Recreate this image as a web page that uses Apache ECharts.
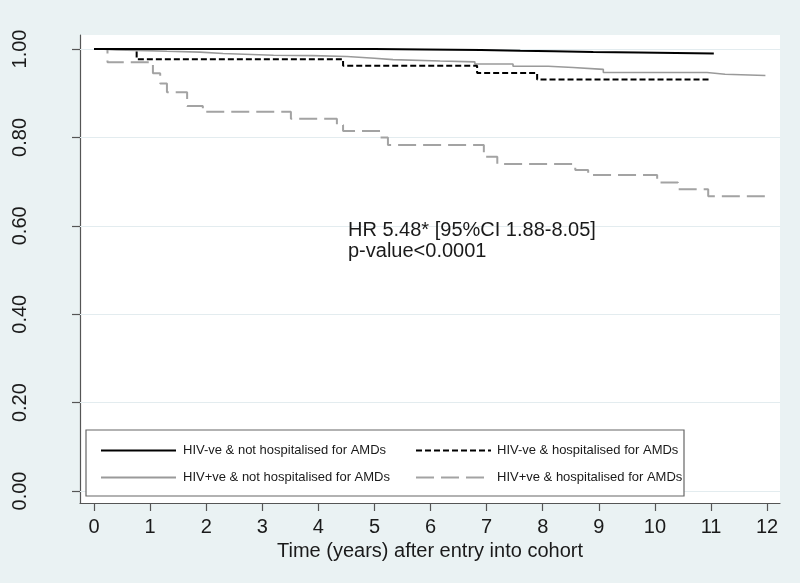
<!DOCTYPE html>
<html>
<head>
<meta charset="utf-8">
<script src="https://cdn.jsdelivr.net/npm/echarts@6/dist/echarts.min.js"></script>
<style>
html,body{margin:0;padding:0;background:#eaf2f3;}
#chart{width:800px;height:583px;}
</style>
</head>
<body>
<div id="chart"></div>
<script>
// Tick labels
const xTicks = [0,1,2,3,4,5,6,7,8,9,10,11,12];
const yTicks = [0,0.2,0.4,0.6,0.8,1.0];

// Series names
const names = [
  'HIV-ve & not hospitalised for AMDs',
  'HIV-ve & hospitalised for AMDs',
  'HIV+ve & not hospitalised for AMDs',
  'HIV+ve & hospitalised for AMDs'
];

// HIV-ve & not hospitalised
const tA = [0, 5.0, 5.9, 6.9, 7.6, 8.2, 8.9, 9.7, 11.05];
const sA = [1.0, 0.999, 0.998, 0.996, 0.995, 0.993, 0.992, 0.990, 0.990];

// HIV-ve & hospitalised
const tB = [0, 0.76, 4.44, 6.83, 7.90, 11.0];
const sB = [1.0, 0.977, 0.962, 0.946, 0.931, 0.931];

// HIV+ve & not hospitalised
const tC = [0, 0.1, 0.4, 0.77, 1.3, 1.89, 2.3, 3.2, 3.9, 4.51, 5.0, 5.33, 6.17, 6.79, 7.47, 8.1, 8.54, 9.08, 10.93, 11.25, 11.97];
const sC = [1.0, 0.998, 0.997, 0.995, 0.993, 0.990, 0.986, 0.985, 0.983, 0.979, 0.976, 0.973, 0.971, 0.966, 0.961, 0.958, 0.954, 0.947, 0.943, 0.940, 0.940];

// HIV+ve & hospitalised
const tD = [0, 0.24, 1.05, 1.18, 1.30, 1.66, 1.94, 3.51, 4.33, 4.44, 5.10, 5.24, 6.95, 7.19, 8.58, 8.81, 10.04, 10.41, 10.95, 11.97];
const sD = [1.0, 0.970, 0.945, 0.922, 0.902, 0.871, 0.858, 0.842, 0.828, 0.8145, 0.800, 0.783, 0.756, 0.740, 0.726, 0.715, 0.698, 0.6825, 0.667, 0.667];

const annotation = 'HR 5.48* [95%CI 1.88-8.05]\np-value<0.0001';
const xTitle = 'Time (years) after entry into cohort';

const pair = (t, s) => t.map((v, i) => [v, s[i]]);

const FONT = '"Liberation Sans", Arial, sans-serif';
const chart = echarts.init(document.getElementById('chart'));

const mkSeries = (name, t, s, color, width, type) => ({
  name: name,
  type: 'line',
  step: 'end',
  symbol: 'none',
  showSymbol: false,
  silent: true,
  animation: false,
  data: pair(t, s),
  lineStyle: { color: color, width: width, type: type, cap: 'butt' },
  itemStyle: { color: color }
});

const legendCommon = {
  orient: 'vertical',
  top: 439,
  z: 10,
  itemWidth: 75, itemHeight: 14, itemGap: 14,
  itemStyle: { opacity: 0 },
  selectedMode: false
};

const option = {
  backgroundColor: '#eaf2f3',
  animation: false,
  grid: {
    left: 80, right: 20, top: 35, bottom: 80,
    show: true, backgroundColor: '#ffffff', borderWidth: 0
  },
  xAxis: {
    type: 'value',
    min: -0.25, max: 12.23,
    name: xTitle,
    nameLocation: 'middle',
    nameGap: 35,
    nameTextStyle: { fontFamily: FONT, fontSize: 20, color: '#1a1a1a' },
    axisLine: { show: true, onZero: false, lineStyle: { color: '#555', width: 1.2 } },
    axisTick: { show: true, length: 8, inside: false, customValues: xTicks, lineStyle: { color: '#555', width: 1.2 } },
    axisLabel: { customValues: xTicks, fontFamily: FONT, fontSize: 20, color: '#1a1a1a', margin: 14 },
    splitLine: { show: false }
  },
  yAxis: {
    type: 'value',
    min: -0.0271, max: 1.0317,
    axisLine: { show: true, onZero: false, lineStyle: { color: '#555', width: 1.2 } },
    axisTick: { show: true, length: 8, inside: false, customValues: yTicks, lineStyle: { color: '#555', width: 1.2 } },
    axisLabel: {
      customValues: yTicks, rotate: 90, fontFamily: FONT, fontSize: 20, color: '#1a1a1a', margin: 50,
      formatter: v => Number(v).toFixed(2)
    },
    splitLine: { show: false }
  },
  legend: [
    Object.assign({}, legendCommon, {
      data: [names[0], names[2]],
      left: 95,
      textStyle: { fontFamily: FONT, fontSize: 13, color: '#1a1a1a', padding: [0, 0, 0, 2] }
    }),
    Object.assign({}, legendCommon, {
      data: [names[1], names[3]],
      left: 410,
      textStyle: { fontFamily: FONT, fontSize: 13, color: '#1a1a1a', padding: [0, 0, 0, 1] }
    })
  ],
  graphic: [
    {
      type: 'rect', z: 8,
      shape: { x: 86, y: 430, width: 598, height: 66 },
      style: { fill: '#ffffff', stroke: '#666', lineWidth: 1.2 }
    },
    {
      type: 'text', left: 348, top: 219.5, z: 10,
      style: { text: annotation, font: '20px "Liberation Sans", Arial, sans-serif', fill: '#1a1a1a', lineHeight: 21 }
    }
  ],
  series: [
    {
      name: 'grid',
      type: 'line',
      data: [],
      silent: true,
      z: 1,
      markLine: {
        silent: true,
        z: 1,
        symbol: 'none',
        animation: false,
        label: { show: false },
        lineStyle: { color: '#e3ecef', width: 1.2, type: 'solid' },
        data: yTicks.map(v => ({ yAxis: v }))
      }
    },
    mkSeries(names[2], tC, sC, '#9a9a9a', 1.6, 'solid'),
    mkSeries(names[3], tD, sD, '#a3a3a3', 2, [18, 7]),
    mkSeries(names[1], tB, sB, '#000000', 2, [6, 3]),
    mkSeries(names[0], tA, sA, '#000000', 2, 'solid')
  ]
};
chart.setOption(option);
</script>
</body>
</html>
